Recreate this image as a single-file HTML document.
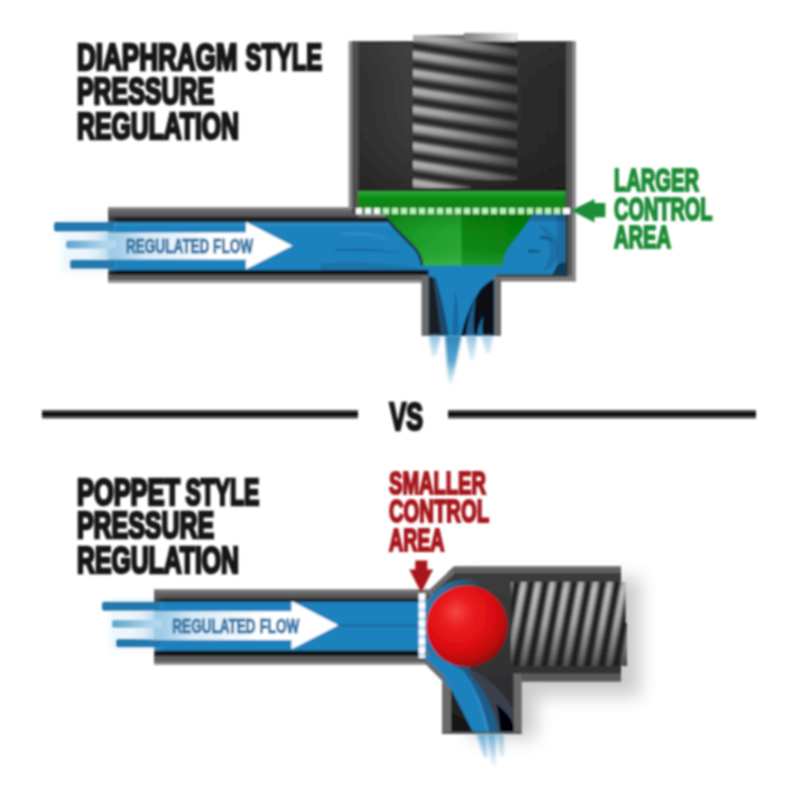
<!DOCTYPE html>
<html>
<head>
<meta charset="utf-8">
<title>Diaphragm vs Poppet Pressure Regulation</title>
<style>
html,body{margin:0;padding:0;background:#fff;width:800px;height:800px;overflow:hidden}
svg{display:block;position:absolute;left:0;top:0}
text{font-family:"Liberation Sans",sans-serif;font-weight:bold}
</style>
</head>
<body>
<svg width="800" height="800" viewBox="0 0 800 800">
<defs>
  <filter id="soft" x="-5%" y="-5%" width="110%" height="110%"><feGaussianBlur stdDeviation="0.85"/></filter>
  <filter id="soft2" x="-10%" y="-10%" width="120%" height="120%"><feGaussianBlur stdDeviation="1.2"/></filter>
  <filter id="blur3" x="-20%" y="-20%" width="140%" height="140%"><feGaussianBlur stdDeviation="3"/></filter>
  <filter id="blur9" x="-30%" y="-30%" width="160%" height="160%"><feGaussianBlur stdDeviation="9"/></filter>
  <filter id="blur6" x="-30%" y="-30%" width="160%" height="160%"><feGaussianBlur stdDeviation="6"/></filter>
</defs>
<rect x="0" y="0" width="800" height="800" fill="#ffffff"/>

<!-- ================= HEADINGS ================= -->
<g id="headings" fill="#151515" stroke="#151515" stroke-width="2.7" stroke-linejoin="miter" filter="url(#soft)">
  <text x="77" y="70" font-size="36.4" textLength="160.5" lengthAdjust="spacingAndGlyphs">DIAPHRAGM</text>
  <text x="245.6" y="70" font-size="36.4" textLength="76.5" lengthAdjust="spacingAndGlyphs">STYLE</text>
  <text x="77" y="104" font-size="36.4" textLength="137" lengthAdjust="spacingAndGlyphs">PRESSURE</text>
  <text x="77" y="138.5" font-size="36.4" textLength="162" lengthAdjust="spacingAndGlyphs">REGULATION</text>

  <text x="77" y="504.5" font-size="36.4" textLength="103" lengthAdjust="spacingAndGlyphs">POPPET</text>
  <text x="185.4" y="504.5" font-size="36.4" textLength="74" lengthAdjust="spacingAndGlyphs">STYLE</text>
  <text x="77" y="538" font-size="36.4" textLength="137" lengthAdjust="spacingAndGlyphs">PRESSURE</text>
  <text x="77" y="572.5" font-size="36.4" textLength="162" lengthAdjust="spacingAndGlyphs">REGULATION</text>
</g>

<!-- ================= VS DIVIDER ================= -->
<g id="vs" filter="url(#soft)">
  <rect x="42" y="410" width="316" height="8.5" fill="#4a4a4a"/>
  <rect x="42" y="412.3" width="316" height="3.8" fill="#000"/>
  <rect x="448" y="410" width="308" height="8.5" fill="#4a4a4a"/>
  <rect x="448" y="412.3" width="308" height="3.8" fill="#000"/>
  <text x="389.6" y="430" font-size="38.5" fill="#151515" stroke="#151515" stroke-width="2.6" textLength="33.5" lengthAdjust="spacingAndGlyphs">VS</text>
</g>

<!-- ================= TOP DIAGRAM (DIAPHRAGM) ================= -->
<defs>
  <linearGradient id="bodyG" x1="0" y1="0" x2="1" y2="0">
    <stop offset="0" stop-color="#2e2e2e"/><stop offset="0.25" stop-color="#3d3d3d"/><stop offset="0.55" stop-color="#323232"/><stop offset="1" stop-color="#272727"/>
  </linearGradient>
  <linearGradient id="wallG" x1="0" y1="0" x2="0" y2="1"><stop offset="0" stop-color="#6c6c6c"/><stop offset="1" stop-color="#4c4c4c"/></linearGradient>
  <linearGradient id="coilTopFade" x1="0" y1="0" x2="1" y2="0"><stop offset="0" stop-color="#8a8a8a" stop-opacity="0.9"/><stop offset="0.5" stop-color="#c8c8c8" stop-opacity="0.85"/><stop offset="1" stop-color="#ffffff" stop-opacity="0.9"/></linearGradient>
  <linearGradient id="bodyV" x1="0" y1="0" x2="0" y2="1"><stop offset="0" stop-color="#555" stop-opacity="0.18"/><stop offset="0.4" stop-color="#333" stop-opacity="0"/><stop offset="1" stop-color="#111" stop-opacity="0.4"/></linearGradient>
  <linearGradient id="coilV" x1="0" y1="0" x2="0" y2="1">
    <stop offset="0" stop-color="#262626"/><stop offset="0.13" stop-color="#3c3c3c"/><stop offset="0.34" stop-color="#b8b8b8"/><stop offset="0.56" stop-color="#a6a6a6"/><stop offset="0.8" stop-color="#424242"/><stop offset="0.93" stop-color="#262626"/><stop offset="1" stop-color="#262626"/>
  </linearGradient>
  <pattern id="coilP" x="0" y="28.2" width="40" height="18.3" patternUnits="userSpaceOnUse" patternTransform="translate(413 0) skewY(9)">
    <rect x="0" y="0" width="40" height="18.3" fill="url(#coilV)"/>
  </pattern>
  <linearGradient id="coilShade" x1="0" y1="0" x2="1" y2="0">
    <stop offset="0" stop-color="#1c1c1c" stop-opacity="0"/><stop offset="0.3" stop-color="#1c1c1c" stop-opacity="0.1"/><stop offset="0.7" stop-color="#1c1c1c" stop-opacity="0.42"/><stop offset="1" stop-color="#1c1c1c" stop-opacity="0.72"/>
  </linearGradient>
  <clipPath id="coilClip"><path d="M413,35 H464 V33 H516.5 V180 H470 V188 H413 Z"/></clipPath>
  <linearGradient id="greenBand" x1="0" y1="0" x2="0" y2="1">
    <stop offset="0" stop-color="#34b040"/><stop offset="0.16" stop-color="#179c24"/><stop offset="0.4" stop-color="#0a8815"/><stop offset="1" stop-color="#078112"/>
  </linearGradient>
  <linearGradient id="coneG" x1="0" y1="0" x2="1" y2="0">
    <stop offset="0" stop-color="#0f8f1b"/><stop offset="0.3" stop-color="#1ea22c"/><stop offset="0.522" stop-color="#26a834"/><stop offset="0.528" stop-color="#088712"/><stop offset="1" stop-color="#067d10"/>
  </linearGradient>
  <linearGradient id="coneShade" x1="0" y1="0" x2="0" y2="1">
    <stop offset="0" stop-color="#064d0c" stop-opacity="0.3"/><stop offset="0.4" stop-color="#064d0c" stop-opacity="0.02"/><stop offset="1" stop-color="#7fe68a" stop-opacity="0.2"/>
  </linearGradient>
  <linearGradient id="arrowG1" gradientUnits="userSpaceOnUse" x1="84" y1="0" x2="215" y2="0">
    <stop offset="0" stop-color="#b4d8ee" stop-opacity="0"/><stop offset="0.1" stop-color="#b4d8ee" stop-opacity="0.25"/><stop offset="0.18" stop-color="#b0d5ec" stop-opacity="0.8"/><stop offset="0.45" stop-color="#d4e8f4"/><stop offset="1" stop-color="#ffffff"/>
  </linearGradient>
  <linearGradient id="midStreak1" gradientUnits="userSpaceOnUse" x1="64" y1="0" x2="112" y2="0">
    <stop offset="0" stop-color="#5ea3cc"/><stop offset="1" stop-color="#b5d6ea"/>
  </linearGradient>
  <linearGradient id="sprayG1" gradientUnits="userSpaceOnUse" x1="0" y1="335" x2="0" y2="388">
    <stop offset="0" stop-color="#2a83ba"/><stop offset="0.5" stop-color="#3f93c6" stop-opacity="0.85"/><stop offset="1" stop-color="#6bb0d8" stop-opacity="0"/>
  </linearGradient>
  <linearGradient id="sprayG1b" gradientUnits="userSpaceOnUse" x1="0" y1="335" x2="0" y2="372">
    <stop offset="0" stop-color="#7db9dc" stop-opacity="0.9"/><stop offset="1" stop-color="#a9d2ea" stop-opacity="0"/>
  </linearGradient>
  <clipPath id="chamberClip1"><path d="M108,222.5 H390 L394,213 H565.5 V274.5 H494.5 V335.5 H428.5 V270 H108 Z"/></clipPath>
</defs>
<g id="top-diagram" filter="url(#soft)">
  <!-- outer silhouette (light-grey border) -->
  <path d="M108,207.5 H348.8 V41.5 H575.8 V281.5 H500.5 V335.8 H422 V282.8 H108 Z" fill="#7c7c7c"/>
  <!-- pipe wall bands -->
  <rect x="108" y="207.5" width="244" height="2.2" fill="#7c7c7c"/>
  <rect x="108" y="209.7" width="250" height="7.3" fill="url(#wallG)"/>
  <rect x="108" y="217" width="286" height="5.8" fill="#1e2327"/>
  <rect x="108" y="269.5" width="321" height="5.8" fill="#11171c"/>
  <rect x="108" y="275.3" width="314" height="5.2" fill="#5b5b5b"/>
  <rect x="108" y="280.3" width="314" height="2.5" fill="#9a9a9a"/>
  <!-- housing dark body -->
  <path d="M352,41.5 H571 V213 H352 Z" fill="url(#bodyG)"/><rect x="352" y="41.5" width="220" height="2.2" fill="#222" opacity="0.6"/><rect x="352" y="41.5" width="219" height="150" fill="url(#bodyV)"/>
  <rect x="348.8" y="41.5" width="3.6" height="167" fill="#8a8a8a"/>
  <rect x="352.3" y="41.5" width="6.2" height="170" fill="#4f4f4f"/>
  <rect x="566.2" y="41.5" width="6.4" height="234" fill="#585858"/>
  <rect x="572.4" y="41.5" width="3.4" height="240" fill="#8c8c8c"/>
  <rect x="565.5" y="213" width="2" height="62" fill="#1a1a1a"/>
  <rect x="495.5" y="274.5" width="72" height="2" fill="#1a1a1a"/>
  <!-- coil spring -->
  <g clip-path="url(#coilClip)">
    <rect x="413" y="30" width="104" height="162" fill="url(#coilP)"/>
    <rect x="413" y="30" width="104" height="162" fill="url(#coilShade)"/>
    <rect x="413" y="30" width="51" height="11.5" fill="#b0b0b0" opacity="0.55"/>
    <rect x="464" y="30" width="53" height="11.5" fill="url(#coilTopFade)"/>
  </g>
  <!-- outlet walls -->
  <rect x="421.5" y="276" width="7.5" height="59.8" fill="#6a6a6a"/>
  <rect x="495.5" y="276" width="5.5" height="59.8" fill="#6a6a6a"/>
  <!-- chamber contents -->
  <g clip-path="url(#chamberClip1)">
    <rect x="100" y="205" width="480" height="135" fill="#1e82be"/>
    <!-- flow streaks in pipe -->
    <path d="M108,222 H400 V226 C330,227 200,226.5 108,226 Z" fill="#2f8ec6" opacity="0.7"/>
    <path d="M320,264 C350,261 385,263 420,268 L430,270 H320 Z" fill="#16618f" opacity="0.45"/>
    <path d="M335,249 C360,247 385,249 405,254 C380,251.5 355,251 335,251.5 Z" fill="#165f8e" opacity="0.55"/>
    <path d="M340,232 C365,230 382,234 396,242 C376,236 360,235 340,235 Z" fill="#3c97cb" opacity="0.45"/>
    <!-- right swirl -->
    <path d="M537,224 C552,228 560,240 558,254 C556,264 550,270 542,272 C549,263 552,251 548,241 C545,233 541,228 537,224 Z" fill="#145a88" opacity="0.4"/>
    <path d="M540,236 C546,236 551,238 554,241 C549,240 544,239 540,239 Z" fill="#114e78" opacity="0.8"/>
    <path d="M528,250 C533,249 538,250 542,252 C537,253 532,253 528,253 Z" fill="#114e78" opacity="0.75"/>
    <path d="M558,264 L566,262 L566,275 L552,275 Z" fill="#0a2236" opacity="0.75"/>
    <rect x="500" y="213" width="66" height="8" fill="#123f5e" opacity="0.35" filter="url(#soft2)"/>
    <rect x="557" y="213" width="9" height="62" fill="#123f5e" opacity="0.32" filter="url(#soft2)"/>
    <!-- outlet interior -->
    <path d="M428.5,276 L428.5,336 L449,336 C446,318 441,296 436,278 Z" fill="#1b4a6a"/>
    <path d="M428.5,276 L428.5,336 L441,336 C439,318 436,296 433,278 Z" fill="#1c1f22"/>
    <path d="M494.5,279 L494.5,336 L461,336 C464,320 472,302 480,290 C484,285 489,281 494.5,279 Z" fill="#0c1116"/>
    <path d="M466,336 C467,322 471,308 476,298 C474,310 473,324 474,336 Z" fill="#1b5f8f"/>
    <path d="M477,336 C478,328 480,322 483,316 C482,324 482,330 483,336 Z" fill="#1f6fa6"/>
    <path d="M455,290 C458,300 459,318 458,336 L452,336 C453,320 454,304 455,290 Z" fill="#17639a" opacity="0.75"/>
  </g>
  <!-- green diaphragm -->
  <rect x="358" y="191.2" width="207.5" height="22" fill="url(#greenBand)"/>
  <path d="M380,212 C386,215 389,219 391,222 C396,228 406,238 414,246 C419,251 422,258 422.8,265.5 H503 C503.5,258 506,251 510,246 C516,238 523,230 528,222 C530,218 532,215 535,212 Z" fill="url(#coneG)"/>
  <path d="M380,212 C386,215 389,219 391,222 C396,228 406,238 414,246 C419,251 422,258 422.8,265.5 H503 C503.5,258 506,251 510,246 C516,238 523,230 528,222 C530,218 532,215 535,212 Z" fill="url(#coneShade)"/>
  <path d="M384,218 C387,219 389,221 390.5,223 C395.5,229 405.5,239 413.3,246.8 C418.2,251.8 421.2,258.5 422,265.5" fill="none" stroke="#1b2a30" stroke-width="2.8" opacity="0.85"/>
  <!-- dotted line -->
  <line x1="356" y1="211" x2="570" y2="211" stroke="#b8f3b8" stroke-width="5.8" stroke-dasharray="6 3"/>
  <line x1="356" y1="211" x2="380" y2="211" stroke="#ffffff" stroke-width="5.8" stroke-dasharray="6 3" opacity="0.85"/>
  <line x1="563" y1="211" x2="570" y2="211" stroke="#ffffff" stroke-width="5.8"/>
  <!-- spray out of outlet -->
  <g filter="url(#soft2)">
  <path d="M445,335.5 L461.5,335.5 L455,368 L451.5,384 L448.5,384 Z" fill="url(#sprayG1)"/>
  <path d="M429,335.5 L441,335.5 L436,356 L432,356 Z" fill="url(#sprayG1b)"/>
  <path d="M466,335.5 L477,335.5 L474,360 L470,360 Z" fill="url(#sprayG1b)"/>
  <path d="M481,335.5 L493,335.5 L490,353 L486,353 Z" fill="url(#sprayG1b)" opacity="0.75"/>
  </g>
  <!-- inlet streaks outside pipe -->
  <rect x="62" y="219" width="50" height="53" fill="#cfe9f8" filter="url(#blur3)" opacity="0.4"/>
  <rect x="54" y="222" width="60" height="9.5" rx="2.5" fill="#2379af"/>
  <rect x="66" y="240.5" width="50" height="8" rx="2.5" fill="url(#midStreak1)"/>
  <rect x="70" y="259.8" width="45" height="9" rx="2.5" fill="#2379af"/>
  <!-- white arrow -->
  <path d="M84,232.5 H246 V222 L292.5,245.7 L246,269.2 V259.5 H84 Z" fill="url(#arrowG1)"/>
  <text x="126" y="253.4" font-size="20.5" fill="#2f76a8" stroke="#2f76a8" stroke-width="1.1" textLength="127" lengthAdjust="spacingAndGlyphs">REGULATED FLOW</text>
</g>


<!-- ================= BOTTOM DIAGRAM (POPPET) ================= -->
<defs>
  <linearGradient id="coilH" x1="0" y1="0" x2="1" y2="0">
    <stop offset="0" stop-color="#1a1a1a"/><stop offset="0.14" stop-color="#3c3c3c"/><stop offset="0.34" stop-color="#c2c2c2"/><stop offset="0.56" stop-color="#b6b6b6"/><stop offset="0.78" stop-color="#3e3e3e"/><stop offset="0.9" stop-color="#1a1a1a"/><stop offset="1" stop-color="#1a1a1a"/>
  </linearGradient>
  <pattern id="coilP2" x="0" y="0" width="14.35" height="40" patternUnits="userSpaceOnUse" patternTransform="translate(531.8 582) skewX(-10.5)">
    <rect x="0" y="0" width="14.35" height="40" fill="url(#coilH)"/>
  </pattern>
  <linearGradient id="coilShade2" x1="0" y1="0" x2="0" y2="1">
    <stop offset="0" stop-color="#1c1c1c" stop-opacity="0.1"/><stop offset="0.1" stop-color="#1c1c1c" stop-opacity="0"/><stop offset="0.5" stop-color="#1c1c1c" stop-opacity="0.15"/><stop offset="0.85" stop-color="#1c1c1c" stop-opacity="0.5"/><stop offset="1" stop-color="#1c1c1c" stop-opacity="0.7"/>
  </linearGradient>
  <clipPath id="coilClip2"><path d="M511,582 H625.5 V623 H627 V666 H511 Z"/></clipPath>
  <radialGradient id="ballG" cx="0.40" cy="0.36" r="0.66" fx="0.36" fy="0.32">
    <stop offset="0" stop-color="#f24545"/><stop offset="0.3" stop-color="#ea1c1f"/><stop offset="0.65" stop-color="#dc0d12"/><stop offset="0.88" stop-color="#b90a0f"/><stop offset="1" stop-color="#8f080c"/>
  </radialGradient>
  <linearGradient id="arrowG2" gradientUnits="userSpaceOnUse" x1="130" y1="0" x2="262" y2="0">
    <stop offset="0" stop-color="#b4d8ee" stop-opacity="0"/><stop offset="0.1" stop-color="#b4d8ee" stop-opacity="0.25"/><stop offset="0.18" stop-color="#b0d5ec" stop-opacity="0.8"/><stop offset="0.45" stop-color="#d4e8f4"/><stop offset="1" stop-color="#ffffff"/>
  </linearGradient>
  <linearGradient id="midStreak2" gradientUnits="userSpaceOnUse" x1="110" y1="0" x2="158" y2="0">
    <stop offset="0" stop-color="#5ea3cc"/><stop offset="1" stop-color="#b5d6ea"/>
  </linearGradient>
  <linearGradient id="sprayG2" gradientUnits="userSpaceOnUse" x1="0" y1="734" x2="0" y2="772">
    <stop offset="0" stop-color="#62a9d4" stop-opacity="0.95"/><stop offset="0.5" stop-color="#8cc1e0" stop-opacity="0.6"/><stop offset="1" stop-color="#b9dbee" stop-opacity="0"/>
  </linearGradient>
  <linearGradient id="body2G" x1="0" y1="0" x2="0" y2="1">
    <stop offset="0" stop-color="#3c3c3c"/><stop offset="0.5" stop-color="#333"/><stop offset="1" stop-color="#2a2a2a"/>
  </linearGradient>
  <clipPath id="ringClip"><path d="M420,595 L433,592.5 L455,573 H492 V640 H470 V682 H449 L433,661 L420,657 Z"/></clipPath>
  <linearGradient id="ringG" gradientUnits="userSpaceOnUse" x1="420" y1="0" x2="488" y2="0">
    <stop offset="0" stop-color="#257cb4"/><stop offset="0.3" stop-color="#2874a6"/><stop offset="0.7" stop-color="#2a5878" stop-opacity="0.85"/><stop offset="1" stop-color="#2d3d4a" stop-opacity="0"/>
  </linearGradient>
  <clipPath id="legClip"><path d="M420,600 H513.5 V731.5 H451 V689 L426,664 Z"/></clipPath>
</defs>
<!-- drop shadow -->
<g filter="url(#blur9)" opacity="0.3">
  <path d="M470,578 H640 V696 H536 V738 H470 Z" fill="#555"/>
</g>
<g id="bottom-diagram" filter="url(#soft)">
  <!-- outer silhouette -->
  <path d="M154,589.5 H429.5 L454.5,566 H621 V681.5 H521.5 V734 H442 V678 L428.5,664.5 H154 Z" fill="#747474"/>
  <!-- pipe wall bands -->
  <rect x="154" y="589.5" width="276" height="2.2" fill="#7c7c7c"/>
  <rect x="154" y="591.7" width="276" height="6.8" fill="url(#wallG)"/>
  <rect x="154" y="598.5" width="272" height="3.7" fill="#1e2327"/>
  <rect x="154" y="650.3" width="272" height="5.7" fill="#0f1418"/>
  <rect x="154" y="656" width="275" height="6.3" fill="#5b5b5b"/>
  <rect x="154" y="662.3" width="275" height="2.2" fill="#8e8e8e"/>
  <!-- housing dark interior -->
  <path d="M433,592.5 L455,573 H621 V674 H513.5 V731.5 H451 V678 L433,661 Z" fill="url(#body2G)"/>
  <path d="M454.5,566 H621 V573 H447 Z" fill="#5e5e5e"/><path d="M454.5,566 H621 V567.8 H452.5 Z" fill="#808080"/>
  
  <rect x="513.5" y="673.5" width="107.5" height="8" fill="#5a5a5a"/>
  <rect x="513.5" y="674" width="8" height="60" fill="#6a6a6a"/>
  <rect x="442" y="678" width="9" height="56" fill="#6a6a6a"/>
  <rect x="442" y="731.5" width="79.5" height="2.5" fill="#5a5a5a"/>
  <!-- blue in pipe -->
  <rect x="154" y="602" width="276" height="48.5" fill="#1e82be"/>
  <path d="M330,624 H420 V627 H330 Z" fill="#1a6a9e" opacity="0.8"/>
  <!-- blue around ball -->
  <g clip-path="url(#ringClip)">
    <circle cx="467" cy="626.2" r="47" fill="url(#ringG)"/>
  </g>
  <!-- leg interior -->
  <g clip-path="url(#legClip)">
    <rect x="451" y="676" width="63" height="58" fill="#2e2e30"/>
    <path d="M451,689 L451,734 L476,734 Z" fill="#242424"/>
    <path d="M451,712 L451,734 L476,734 L470,722 Z" fill="#161616"/>
    <path d="M468,668 C488,676 506,694 514,712 L514,734 L490,734 Z" fill="#454f68" opacity="0.55"/>
    <path d="M466,670 C482,684 494,708 500,734 L486,734 Z" fill="#1c5d89"/>
    <path d="M496,704 C505,710 511,718 514,726 L514,734 L500,734 C500,724 499,714 496,704 Z" fill="#050607"/>
    <path d="M424,654 L446,662 L464,671 C475,688 484,710 489,734 L474,734 L451,689 L426,664 Z" fill="#1e82be"/>
    <path d="M464,671 C474,688 482,710 486.5,734 L489.5,734 C485,708 475,688 464,671 Z" fill="#2d8fc8"/>
  </g>
  <path d="M426,661.5 L444.5,680" stroke="#6a6a6a" stroke-width="4.5" fill="none"/>
  <path d="M431.5,591 L454,570.5" stroke="#6a6a6a" stroke-width="3" fill="none"/>
  <!-- spring -->
  <g clip-path="url(#coilClip2)">
    <rect x="505" y="582" width="125" height="84" fill="url(#coilP2)"/>
    <rect x="505" y="582" width="125" height="84" fill="url(#coilShade2)"/>
  </g>
  <!-- ball -->
  <circle cx="467" cy="626.2" r="40.6" fill="url(#ballG)"/>
  <!-- dotted line -->
  <line x1="422" y1="593" x2="422" y2="658" stroke="#bfe4f6" stroke-width="6.5"/>
  <line x1="422" y1="594" x2="422" y2="658" stroke="#ffffff" stroke-width="6.5" stroke-dasharray="5.5 3.4"/>
  <!-- spray -->
  <g filter="url(#soft2)">
    <path d="M477,734 L486,734 L488,758 L484,758 Z" fill="url(#sprayG2)"/>
    <path d="M487,734 L496,734 L496,766 L492,766 Z" fill="url(#sprayG2)"/>
    <path d="M497,734 L504,734 L504,756 L500,756 Z" fill="url(#sprayG2)" opacity="0.7"/>
  </g>
  <!-- inlet streaks -->
  <rect x="110" y="599" width="48" height="51" fill="#cfe9f8" filter="url(#blur3)" opacity="0.4"/>
  <rect x="102" y="601.8" width="58" height="9" rx="2.5" fill="#2379af"/>
  <rect x="112" y="620" width="50" height="7.8" rx="2.5" fill="url(#midStreak2)"/>
  <rect x="116" y="639" width="45" height="8.2" rx="2.5" fill="#2379af"/>
  <!-- white arrow -->
  <path d="M130,611.3 H291.5 V601 L338.5,625.3 L291.5,649.3 V640 H130 Z" fill="url(#arrowG2)"/>
  <text x="172.3" y="632.8" font-size="20.5" fill="#2f76a8" stroke="#2f76a8" stroke-width="1.1" textLength="127" lengthAdjust="spacingAndGlyphs">REGULATED FLOW</text>
</g>


<!-- ================= LABELS ================= -->
<g id="label-larger" fill="#1f8c37" stroke="#1f8c37" stroke-width="2" filter="url(#soft)">
  <text x="614" y="191" font-size="31" textLength="85" lengthAdjust="spacingAndGlyphs">LARGER</text>
  <text x="614" y="219.5" font-size="31" textLength="98.5" lengthAdjust="spacingAndGlyphs">CONTROL</text>
  <text x="614" y="248" font-size="31" textLength="57" lengthAdjust="spacingAndGlyphs">AREA</text>
  <path d="M573.5,210.5 L593.5,200.5 L593.5,204 L604.3,204 L604.3,216.3 L593.5,216.3 L593.5,220.8 Z"/>
</g>
<g id="label-smaller" fill="#a8161d" stroke="#a8161d" stroke-width="2" filter="url(#soft)">
  <text x="389" y="494" font-size="31" textLength="97" lengthAdjust="spacingAndGlyphs">SMALLER</text>
  <text x="389" y="522" font-size="31" textLength="100" lengthAdjust="spacingAndGlyphs">CONTROL</text>
  <text x="389" y="550.5" font-size="31" textLength="55.5" lengthAdjust="spacingAndGlyphs">AREA</text>
  <path d="M421.2,590.5 L411,570.5 L416.3,570.5 L416.3,561.5 L426.3,561.5 L426.3,570.5 L431.4,570.5 Z"/>
</g>
</svg>
</body>
</html>
